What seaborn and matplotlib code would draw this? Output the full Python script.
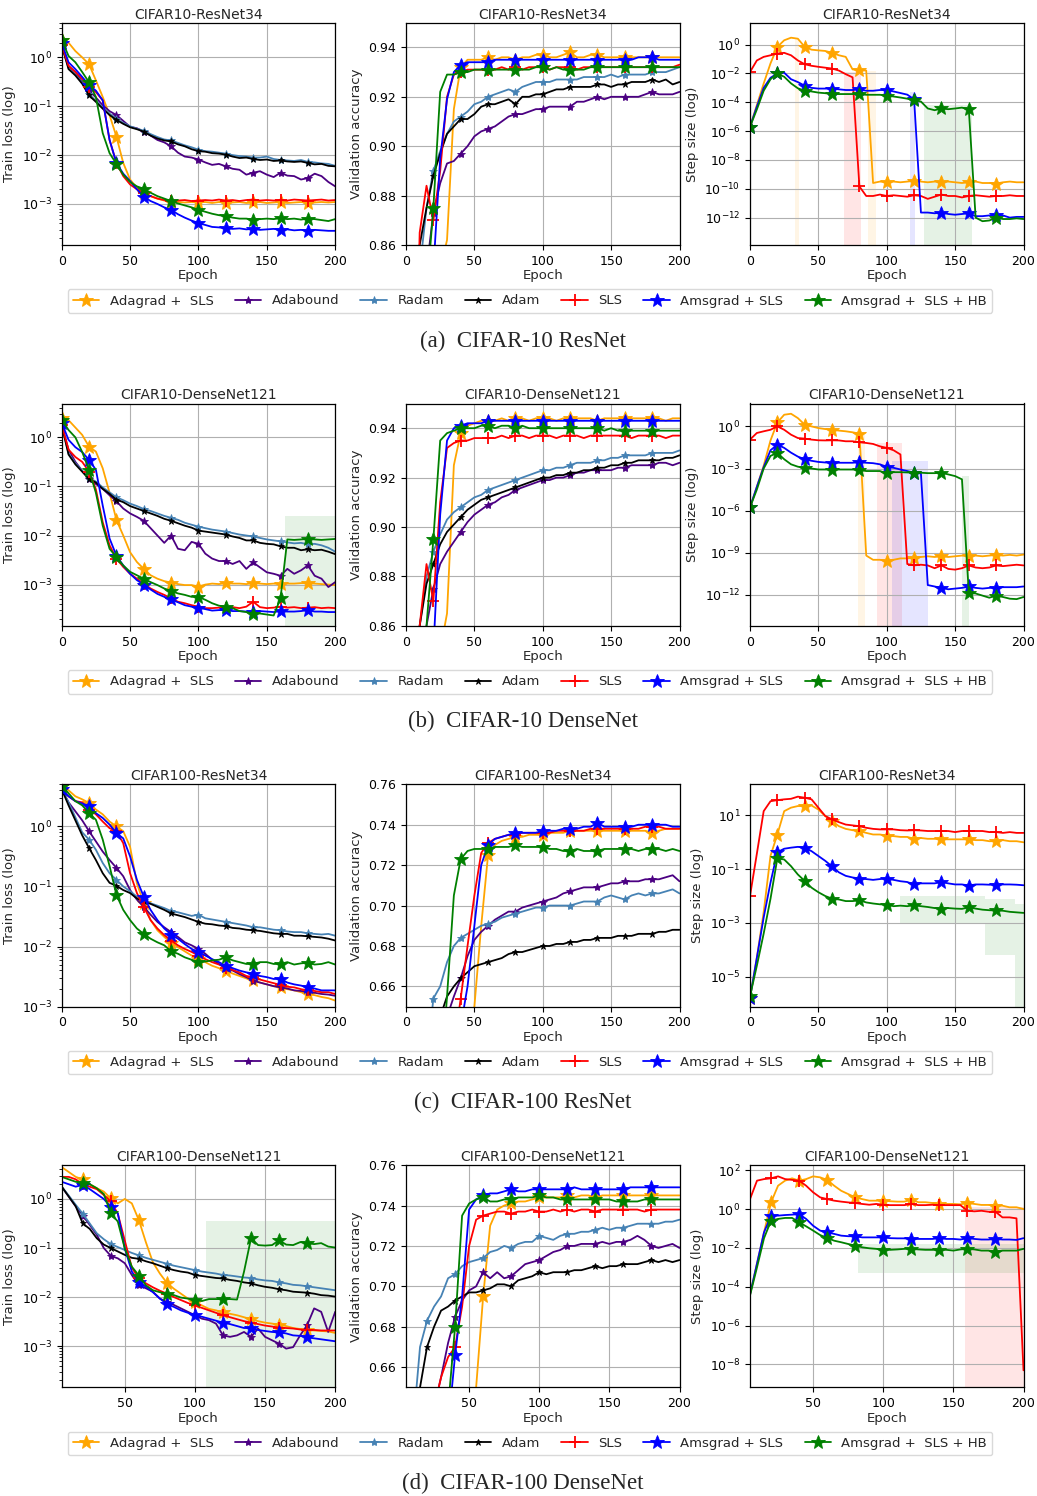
import numpy as np
import matplotlib
matplotlib.use("Agg")
import matplotlib.pyplot as plt
from matplotlib.lines import Line2D
from matplotlib.ticker import NullLocator
import seaborn as sns

epochs = list(range(0, 201, 5))
epochs_dn = list(range(5, 201, 5))   # CIFAR100-DenseNet curves start at epoch 5

methods = ["Adagrad +  SLS", "Adabound", "Radam", "Adam", "SLS",
           "Amsgrad + SLS", "Amsgrad +  SLS + HB"]
colors = ["orange", "indigo", "steelblue", "black", "red", "blue", "green"]
markers = ["*", "*", "*", "*", "+", "*", "*"]
msizes = [10, 6, 6, 5, 8, 10, 10]

# ---------------- CIFAR10 - ResNet34 ----------------
# train loss, log10
c10r_loss_adagrad = [0.36, 0.30, 0.13, 0.00, -0.14, -0.47, -0.81, -1.18, -1.62, -2.16, -2.50, -2.67, -2.77, -2.84, -2.89, -2.93, -2.95, -2.96, -2.97, -2.96, -2.97, -2.96, -2.98, -2.96, -2.98, -2.97, -2.96, -2.98, -2.97, -2.96, -2.98, -2.97, -2.96, -2.98, -2.97, -2.96, -2.98, -2.97, -2.96, -2.97, -2.96]
c10r_loss_adabound = [0.25, -0.18, -0.30, -0.50, -0.68, -0.82, -0.98, -1.10, -1.18, -1.30, -1.42, -1.45, -1.52, -1.60, -1.69, -1.74, -1.82, -1.95, -2.03, -2.05, -2.09, -2.15, -2.20, -2.18, -2.23, -2.28, -2.30, -2.40, -2.36, -2.33, -2.40, -2.45, -2.36, -2.42, -2.43, -2.50, -2.47, -2.38, -2.43, -2.55, -2.64]
c10r_loss_radam = [0.25, -0.22, -0.35, -0.52, -0.75, -0.89, -1.02, -1.15, -1.26, -1.34, -1.41, -1.46, -1.50, -1.57, -1.63, -1.68, -1.70, -1.75, -1.80, -1.84, -1.89, -1.92, -1.93, -1.95, -1.97, -2.00, -2.02, -2.03, -2.05, -2.05, -2.03, -2.08, -2.10, -2.11, -2.12, -2.10, -2.14, -2.15, -2.17, -2.18, -2.22]
c10r_loss_adam = [0.25, -0.24, -0.37, -0.54, -0.78, -0.91, -1.05, -1.18, -1.28, -1.36, -1.43, -1.47, -1.52, -1.60, -1.66, -1.70, -1.72, -1.78, -1.82, -1.88, -1.92, -1.93, -1.96, -1.97, -1.99, -2.03, -2.06, -2.05, -2.08, -2.10, -2.09, -2.12, -2.11, -2.13, -2.14, -2.13, -2.16, -2.19, -2.18, -2.22, -2.23]
c10r_loss_sls = [0.25, -0.17, -0.30, -0.44, -0.60, -0.71, -0.88, -1.69, -2.16, -2.43, -2.60, -2.70, -2.77, -2.84, -2.89, -2.92, -2.93, -2.93, -2.92, -2.94, -2.93, -2.92, -2.93, -2.91, -2.93, -2.92, -2.94, -2.92, -2.91, -2.93, -2.92, -2.93, -2.92, -2.93, -2.91, -2.92, -2.93, -2.92, -2.91, -2.93, -2.92]
c10r_loss_amsgrad = [0.30, -0.10, -0.24, -0.40, -0.57, -0.68, -0.88, -1.69, -2.16, -2.38, -2.53, -2.70, -2.85, -2.94, -3.00, -3.07, -3.12, -3.21, -3.28, -3.34, -3.39, -3.43, -3.47, -3.48, -3.50, -3.51, -3.50, -3.52, -3.51, -3.53, -3.52, -3.51, -3.53, -3.52, -3.54, -3.53, -3.55, -3.53, -3.54, -3.55, -3.55]
c10r_loss_hb = [0.36, 0.03, -0.10, -0.30, -0.51, -0.81, -1.55, -1.96, -2.18, -2.40, -2.55, -2.64, -2.69, -2.77, -2.84, -2.89, -2.94, -2.99, -3.03, -3.07, -3.12, -3.16, -3.20, -3.23, -3.25, -3.28, -3.30, -3.30, -3.32, -3.31, -3.30, -3.31, -3.29, -3.31, -3.30, -3.32, -3.30, -3.31, -3.33, -3.35, -3.31]
# validation accuracy
c10r_acc_adagrad = [0.60, 0.70, 0.78, 0.82, 0.84, 0.85, 0.862, 0.915, 0.932, 0.935, 0.935, 0.935, 0.936, 0.935, 0.936, 0.936, 0.935, 0.936, 0.936, 0.937, 0.937, 0.936, 0.936, 0.937, 0.938, 0.936, 0.936, 0.937, 0.937, 0.936, 0.936, 0.936, 0.936, 0.936, 0.936, 0.936, 0.936, 0.936, 0.936, 0.936, 0.936]
c10r_acc_adabound = [0.55, 0.70, 0.80, 0.85, 0.873, 0.885, 0.893, 0.894, 0.897, 0.900, 0.904, 0.906, 0.907, 0.908, 0.910, 0.912, 0.913, 0.913, 0.914, 0.915, 0.915, 0.916, 0.916, 0.916, 0.916, 0.918, 0.918, 0.919, 0.920, 0.919, 0.920, 0.920, 0.920, 0.920, 0.920, 0.921, 0.922, 0.921, 0.921, 0.921, 0.922]
c10r_acc_radam = [0.60, 0.75, 0.85, 0.875, 0.890, 0.898, 0.905, 0.910, 0.912, 0.914, 0.917, 0.918, 0.920, 0.921, 0.922, 0.923, 0.922, 0.924, 0.925, 0.926, 0.926, 0.926, 0.927, 0.927, 0.927, 0.927, 0.928, 0.928, 0.928, 0.928, 0.929, 0.928, 0.929, 0.929, 0.929, 0.929, 0.930, 0.930, 0.930, 0.931, 0.932]
c10r_acc_adam = [0.60, 0.75, 0.86, 0.875, 0.888, 0.897, 0.905, 0.908, 0.911, 0.911, 0.913, 0.916, 0.917, 0.917, 0.918, 0.919, 0.917, 0.920, 0.920, 0.921, 0.921, 0.922, 0.923, 0.923, 0.924, 0.924, 0.924, 0.924, 0.925, 0.925, 0.924, 0.925, 0.925, 0.926, 0.926, 0.926, 0.927, 0.926, 0.927, 0.925, 0.926]
c10r_acc_sls = [0.60, 0.75, 0.865, 0.884, 0.870, 0.890, 0.920, 0.929, 0.930, 0.931, 0.931, 0.931, 0.931, 0.931, 0.932, 0.931, 0.932, 0.931, 0.932, 0.932, 0.932, 0.931, 0.932, 0.932, 0.932, 0.931, 0.932, 0.932, 0.932, 0.932, 0.932, 0.932, 0.932, 0.932, 0.932, 0.932, 0.932, 0.932, 0.932, 0.932, 0.933]
c10r_acc_amsgrad = [0.60, 0.70, 0.78, 0.82, 0.850, 0.895, 0.919, 0.930, 0.933, 0.934, 0.934, 0.934, 0.934, 0.935, 0.935, 0.935, 0.935, 0.935, 0.935, 0.935, 0.935, 0.935, 0.935, 0.935, 0.935, 0.935, 0.935, 0.935, 0.935, 0.935, 0.935, 0.935, 0.935, 0.935, 0.936, 0.936, 0.936, 0.935, 0.935, 0.935, 0.935]
c10r_acc_hb = [0.60, 0.72, 0.80, 0.84, 0.875, 0.922, 0.929, 0.929, 0.930, 0.930, 0.931, 0.931, 0.931, 0.931, 0.931, 0.931, 0.931, 0.931, 0.931, 0.932, 0.932, 0.931, 0.932, 0.931, 0.931, 0.931, 0.931, 0.932, 0.932, 0.932, 0.932, 0.932, 0.932, 0.932, 0.932, 0.932, 0.932, 0.932, 0.932, 0.932, 0.932]
# step size, log10
c10r_step_adagrad = [-5.7, -4.2, -2.7, -1.3, -0.16, 0.30, 0.48, 0.41, -0.16, -0.35, -0.40, -0.44, -0.57, -0.74, -0.85, -1.72, -1.77, -1.80, -9.6, -9.5, -9.55, -9.5, -9.55, -9.5, -9.45, -9.5, -9.55, -9.5, -9.55, -9.5, -9.55, -9.6, -9.55, -9.5, -9.6, -9.6, -9.64, -9.55, -9.5, -9.55, -9.55]
c10r_step_sls = [-1.9, -1.1, -0.85, -0.74, -0.62, -0.57, -0.74, -1.10, -1.36, -1.47, -1.54, -1.60, -1.66, -1.80, -2.05, -2.27, -9.84, -10.5, -10.5, -10.4, -10.5, -10.45, -10.5, -10.55, -10.45, -10.5, -10.7, -10.55, -10.4, -10.5, -10.5, -10.6, -10.5, -10.45, -10.5, -10.55, -10.5, -10.5, -10.45, -10.5, -10.5]
c10r_step_amsgrad = [-5.7, -4.3, -3.0, -2.3, -2.0, -1.95, -2.4, -2.6, -2.85, -3.0, -3.05, -3.05, -3.05, -3.1, -3.15, -3.15, -3.1, -3.2, -3.2, -3.15, -3.15, -3.25, -3.36, -3.47, -3.8, -11.65, -11.65, -11.7, -11.65, -11.75, -11.8, -11.75, -11.7, -11.9, -11.9, -11.85, -11.85, -11.85, -12.0, -11.95, -11.95]
c10r_step_hb = [-5.7, -4.5, -3.2, -2.4, -2.0, -2.23, -2.69, -3.03, -3.2, -3.25, -3.33, -3.37, -3.43, -3.43, -3.43, -3.43, -3.45, -3.48, -3.48, -3.48, -3.53, -3.6, -3.67, -3.75, -3.84, -3.95, -4.43, -4.55, -4.43, -4.48, -4.43, -4.37, -4.5, -12.0, -12.25, -12.2, -12.0, -12.1, -12.1, -12.05, -12.1]
# shaded spread (method index, first epoch, last epoch, low log10, high log10)
c10r_step_bands = [(4, 69, 81, -13.9, -1.9), (5, 117, 121, -13.9, -3.3),
                   (6, 127, 162, -13.9, -4.2), (0, 33, 36, -13.9, 0.4), (0, 86, 92, -13.9, -1.8)]

# ---------------- CIFAR10 - DenseNet121 ----------------
c10d_loss_adagrad = [0.40, 0.35, 0.20, 0.05, -0.19, -0.29, -0.63, -1.13, -1.68, -2.00, -2.34, -2.54, -2.68, -2.81, -2.88, -2.93, -2.96, -2.99, -3.01, -3.01, -3.04, -3.00, -2.98, -2.99, -2.97, -2.98, -2.98, -2.99, -2.97, -2.98, -2.99, -2.98, -2.99, -2.98, -2.98, -2.97, -2.97, -2.98, -2.99, -3.00, -3.01]
c10d_loss_adabound = [0.25, -0.25, -0.50, -0.68, -0.85, -0.95, -1.05, -1.18, -1.30, -1.45, -1.55, -1.62, -1.70, -1.85, -2.00, -2.15, -2.00, -2.27, -2.30, -2.13, -2.17, -2.37, -2.47, -2.52, -2.52, -2.58, -2.52, -2.68, -2.55, -2.65, -2.75, -2.78, -2.82, -2.68, -2.78, -2.71, -2.61, -2.82, -2.88, -3.05, -2.95]
c10d_loss_radam = [0.25, -0.33, -0.53, -0.68, -0.83, -0.90, -1.02, -1.12, -1.22, -1.28, -1.35, -1.40, -1.46, -1.50, -1.55, -1.60, -1.64, -1.68, -1.74, -1.78, -1.82, -1.85, -1.88, -1.90, -1.92, -1.95, -1.98, -2.00, -2.02, -2.05, -2.08, -2.10, -2.12, -2.14, -2.16, -2.15, -2.18, -2.17, -2.20, -2.25, -2.33]
c10d_loss_adam = [0.25, -0.35, -0.55, -0.70, -0.85, -0.92, -1.05, -1.15, -1.27, -1.32, -1.40, -1.45, -1.50, -1.55, -1.60, -1.66, -1.70, -1.75, -1.80, -1.84, -1.90, -1.92, -1.94, -1.96, -1.98, -2.02, -2.05, -2.10, -2.10, -2.15, -2.17, -2.18, -2.22, -2.25, -2.25, -2.30, -2.28, -2.30, -2.29, -2.33, -2.38]
c10d_loss_sls = [0.25, -0.25, -0.40, -0.50, -0.70, -1.06, -1.73, -2.20, -2.47, -2.64, -2.78, -2.88, -2.98, -3.08, -3.15, -3.21, -3.28, -3.35, -3.38, -3.42, -3.45, -3.48, -3.48, -3.47, -3.48, -3.46, -3.48, -3.45, -3.35, -3.46, -3.48, -3.47, -3.45, -3.47, -3.46, -3.48, -3.47, -3.46, -3.48, -3.47, -3.48]
c10d_loss_amsgrad = [0.30, -0.05, -0.20, -0.30, -0.46, -0.66, -1.39, -2.06, -2.41, -2.61, -2.78, -2.91, -3.00, -3.10, -3.19, -3.25, -3.30, -3.36, -3.42, -3.45, -3.47, -3.50, -3.53, -3.52, -3.52, -3.54, -3.54, -3.55, -3.55, -3.54, -3.55, -3.56, -3.54, -3.55, -3.55, -3.54, -3.52, -3.55, -3.55, -3.56, -3.56]
c10d_loss_hb = [0.36, 0.15, 0.00, -0.30, -0.66, -1.13, -1.80, -2.27, -2.44, -2.61, -2.74, -2.81, -2.88, -2.95, -3.01, -3.08, -3.13, -3.18, -3.21, -3.25, -3.25, -3.31, -3.38, -3.43, -3.45, -3.48, -3.54, -3.56, -3.59, -3.59, -3.61, -3.63, -3.28, -2.08, -2.09, -2.08, -2.07, -2.08, -2.09, -2.08, -2.07]
c10d_loss_bands = [(6, 163, 200, -3.9, -1.6)]
c10d_acc_adagrad = [0.60, 0.70, 0.78, 0.82, 0.84, 0.85, 0.865, 0.925, 0.938, 0.941, 0.942, 0.943, 0.943, 0.943, 0.944, 0.943, 0.944, 0.944, 0.943, 0.944, 0.944, 0.944, 0.943, 0.944, 0.944, 0.944, 0.944, 0.944, 0.943, 0.944, 0.944, 0.944, 0.944, 0.944, 0.944, 0.944, 0.944, 0.944, 0.943, 0.944, 0.944]
c10d_acc_adabound = [0.55, 0.70, 0.80, 0.86, 0.875, 0.885, 0.890, 0.894, 0.898, 0.902, 0.905, 0.907, 0.909, 0.910, 0.912, 0.913, 0.915, 0.916, 0.917, 0.918, 0.919, 0.919, 0.920, 0.920, 0.921, 0.922, 0.922, 0.923, 0.923, 0.923, 0.923, 0.924, 0.924, 0.925, 0.925, 0.925, 0.925, 0.926, 0.926, 0.925, 0.926]
c10d_acc_radam = [0.60, 0.75, 0.86, 0.880, 0.890, 0.897, 0.903, 0.906, 0.908, 0.910, 0.912, 0.913, 0.915, 0.916, 0.917, 0.918, 0.919, 0.920, 0.921, 0.922, 0.923, 0.923, 0.924, 0.924, 0.925, 0.926, 0.926, 0.926, 0.927, 0.927, 0.928, 0.928, 0.929, 0.929, 0.929, 0.929, 0.930, 0.930, 0.930, 0.930, 0.931]
c10d_acc_adam = [0.60, 0.75, 0.86, 0.877, 0.885, 0.893, 0.898, 0.901, 0.904, 0.907, 0.909, 0.911, 0.912, 0.913, 0.914, 0.915, 0.916, 0.917, 0.918, 0.919, 0.920, 0.920, 0.921, 0.921, 0.922, 0.922, 0.923, 0.923, 0.924, 0.924, 0.925, 0.925, 0.926, 0.926, 0.927, 0.927, 0.927, 0.927, 0.928, 0.928, 0.929]
c10d_acc_sls = [0.60, 0.75, 0.86, 0.885, 0.870, 0.910, 0.932, 0.934, 0.935, 0.935, 0.936, 0.936, 0.936, 0.936, 0.937, 0.936, 0.937, 0.937, 0.936, 0.937, 0.937, 0.937, 0.936, 0.937, 0.937, 0.937, 0.936, 0.937, 0.937, 0.937, 0.937, 0.937, 0.937, 0.936, 0.937, 0.937, 0.937, 0.937, 0.936, 0.937, 0.937]
c10d_acc_amsgrad = [0.60, 0.70, 0.78, 0.82, 0.850, 0.905, 0.935, 0.940, 0.941, 0.942, 0.942, 0.942, 0.943, 0.943, 0.943, 0.943, 0.943, 0.943, 0.943, 0.943, 0.943, 0.943, 0.943, 0.943, 0.943, 0.943, 0.943, 0.943, 0.943, 0.943, 0.943, 0.943, 0.943, 0.943, 0.943, 0.943, 0.943, 0.943, 0.943, 0.943, 0.943]
c10d_acc_hb = [0.60, 0.72, 0.80, 0.86, 0.895, 0.935, 0.938, 0.939, 0.940, 0.940, 0.940, 0.941, 0.941, 0.940, 0.941, 0.941, 0.940, 0.941, 0.940, 0.940, 0.940, 0.940, 0.940, 0.940, 0.940, 0.940, 0.940, 0.940, 0.940, 0.939, 0.940, 0.939, 0.939, 0.939, 0.939, 0.939, 0.939, 0.939, 0.939, 0.939, 0.939]
c10d_step_adagrad = [-5.77, -4.3, -2.8, -1.0, 0.28, 0.83, 0.90, 0.59, 0.12, 0.0, -0.12, -0.19, -0.24, -0.30, -0.35, -0.42, -0.52, -9.2, -9.5, -9.5, -9.6, -9.5, -9.4, -9.4, -9.35, -9.3, -9.25, -9.3, -9.25, -9.3, -9.25, -9.2, -9.25, -9.2, -9.25, -9.2, -9.15, -9.2, -9.15, -9.2, -9.13]
c10d_step_sls = [-0.94, -0.47, -0.35, -0.24, 0.0, -0.24, -0.59, -0.83, -0.87, -0.94, -0.99, -1.0, -0.99, -1.0, -1.06, -1.06, -1.13, -1.18, -1.25, -1.42, -1.53, -1.70, -2.0, -9.8, -9.9, -9.85, -9.9, -10.1, -9.9, -10.15, -10.2, -10.1, -9.9, -10.05, -10.1, -10.05, -9.9, -9.95, -9.9, -9.85, -9.9]
c10d_step_amsgrad = [-5.77, -4.3, -2.9, -1.7, -1.3, -1.53, -1.87, -2.15, -2.34, -2.45, -2.53, -2.57, -2.59, -2.59, -2.59, -2.59, -2.55, -2.59, -2.62, -2.7, -2.88, -2.95, -3.07, -3.18, -3.3, -3.35, -11.3, -11.4, -11.5, -11.6, -11.55, -11.5, -11.4, -11.5, -11.55, -11.5, -11.5, -11.45, -11.45, -11.45, -11.4]
c10d_step_hb = [-5.77, -4.5, -3.0, -2.1, -1.89, -2.34, -2.7, -2.87, -2.95, -3.0, -3.07, -3.07, -3.07, -3.07, -3.07, -3.07, -3.1, -3.18, -3.18, -3.18, -3.35, -3.26, -3.26, -3.28, -3.3, -3.3, -3.33, -3.33, -3.3, -3.42, -3.54, -3.77, -11.85, -11.9, -12.05, -12.2, -12.05, -12.15, -12.27, -12.3, -12.15]
c10d_step_bands = [(0, 79, 84, -14.2, -0.6), (4, 93, 111, -14.2, -1.2),
                   (5, 104, 130, -14.2, -2.5), (6, 155, 160, -14.2, -3.5)]

# ---------------- CIFAR100 - ResNet34 ----------------
c100r_loss_adagrad = [0.68, 0.60, 0.50, 0.45, 0.39, 0.28, 0.20, 0.08, 0.00, -0.08, -0.34, -0.95, -1.28, -1.56, -1.73, -1.84, -1.94, -2.01, -2.08, -2.15, -2.21, -2.26, -2.32, -2.36, -2.40, -2.45, -2.49, -2.53, -2.56, -2.60, -2.63, -2.66, -2.68, -2.71, -2.73, -2.76, -2.79, -2.81, -2.84, -2.86, -2.90]
c100r_loss_adabound = [0.62, 0.40, 0.25, 0.10, -0.08, -0.25, -0.42, -0.56, -0.69, -0.83, -1.06, -1.22, -1.34, -1.47, -1.59, -1.68, -1.76, -1.84, -1.93, -1.98, -2.04, -2.12, -2.22, -2.29, -2.35, -2.40, -2.46, -2.51, -2.57, -2.60, -2.63, -2.66, -2.68, -2.70, -2.73, -2.74, -2.76, -2.77, -2.79, -2.80, -2.82]
c100r_loss_radam = [0.62, 0.40, 0.15, -0.10, -0.22, -0.39, -0.61, -0.78, -0.89, -1.00, -1.08, -1.17, -1.22, -1.28, -1.32, -1.36, -1.41, -1.43, -1.46, -1.49, -1.47, -1.53, -1.55, -1.57, -1.59, -1.61, -1.63, -1.65, -1.68, -1.68, -1.70, -1.72, -1.73, -1.75, -1.76, -1.76, -1.78, -1.79, -1.80, -1.79, -1.82]
c100r_loss_adam = [0.62, 0.35, 0.10, -0.15, -0.36, -0.56, -0.78, -0.94, -0.99, -1.06, -1.11, -1.20, -1.25, -1.29, -1.34, -1.39, -1.45, -1.48, -1.51, -1.55, -1.59, -1.62, -1.63, -1.65, -1.66, -1.69, -1.70, -1.72, -1.73, -1.74, -1.76, -1.78, -1.79, -1.79, -1.82, -1.82, -1.83, -1.84, -1.85, -1.87, -1.90]
c100r_loss_sls = [0.62, 0.50, 0.42, 0.40, 0.28, 0.20, 0.08, -0.03, -0.08, -0.28, -0.78, -1.11, -1.34, -1.56, -1.70, -1.81, -1.90, -1.98, -2.04, -2.09, -2.15, -2.21, -2.26, -2.30, -2.35, -2.39, -2.43, -2.49, -2.51, -2.55, -2.58, -2.61, -2.64, -2.67, -2.68, -2.71, -2.73, -2.74, -2.76, -2.76, -2.79]
c100r_loss_amsgrad = [0.62, 0.50, 0.42, 0.38, 0.34, 0.22, 0.14, 0.03, -0.11, -0.20, -0.50, -0.89, -1.17, -1.39, -1.56, -1.70, -1.80, -1.87, -1.96, -2.04, -2.09, -2.15, -2.21, -2.26, -2.32, -2.36, -2.40, -2.43, -2.45, -2.49, -2.51, -2.54, -2.54, -2.60, -2.63, -2.65, -2.68, -2.70, -2.73, -2.73, -2.73]
c100r_loss_hb = [0.68, 0.55, 0.42, 0.35, 0.22, 0.11, -0.22, -0.66, -1.14, -1.39, -1.56, -1.70, -1.79, -1.87, -1.93, -1.98, -2.08, -2.12, -2.18, -2.22, -2.26, -2.25, -2.23, -2.22, -2.18, -2.23, -2.26, -2.29, -2.29, -2.26, -2.26, -2.29, -2.29, -2.26, -2.30, -2.28, -2.27, -2.30, -2.29, -2.26, -2.30]
c100r_acc_adagrad = [0.20, 0.30, 0.40, 0.47, 0.53, 0.57, 0.60, 0.62, 0.63, 0.64, 0.65, 0.69, 0.725, 0.730, 0.732, 0.733, 0.734, 0.734, 0.735, 0.735, 0.735, 0.736, 0.736, 0.736, 0.737, 0.737, 0.737, 0.737, 0.737, 0.737, 0.737, 0.737, 0.737, 0.737, 0.737, 0.737, 0.736, 0.737, 0.738, 0.738, 0.738]
c100r_acc_adabound = [0.25, 0.35, 0.45, 0.52, 0.57, 0.61, 0.645, 0.655, 0.664, 0.675, 0.683, 0.687, 0.690, 0.693, 0.695, 0.697, 0.697, 0.699, 0.700, 0.701, 0.702, 0.703, 0.704, 0.706, 0.707, 0.708, 0.709, 0.709, 0.709, 0.710, 0.711, 0.711, 0.712, 0.712, 0.712, 0.713, 0.713, 0.713, 0.714, 0.715, 0.712]
c100r_acc_radam = [0.30, 0.45, 0.55, 0.62, 0.654, 0.660, 0.672, 0.680, 0.684, 0.686, 0.688, 0.690, 0.691, 0.692, 0.694, 0.695, 0.696, 0.697, 0.698, 0.699, 0.699, 0.700, 0.700, 0.700, 0.700, 0.701, 0.702, 0.702, 0.702, 0.704, 0.705, 0.704, 0.703, 0.705, 0.706, 0.705, 0.706, 0.706, 0.707, 0.708, 0.706]
c100r_acc_adam = [0.30, 0.45, 0.55, 0.60, 0.62, 0.645, 0.655, 0.660, 0.664, 0.667, 0.670, 0.671, 0.672, 0.673, 0.674, 0.676, 0.677, 0.677, 0.678, 0.679, 0.680, 0.680, 0.681, 0.681, 0.682, 0.682, 0.683, 0.683, 0.684, 0.684, 0.684, 0.685, 0.685, 0.685, 0.686, 0.686, 0.686, 0.687, 0.687, 0.688, 0.688]
c100r_acc_sls = [0.20, 0.30, 0.40, 0.47, 0.53, 0.57, 0.60, 0.63, 0.654, 0.680, 0.705, 0.726, 0.731, 0.733, 0.734, 0.735, 0.735, 0.736, 0.736, 0.736, 0.736, 0.736, 0.737, 0.737, 0.737, 0.737, 0.737, 0.738, 0.738, 0.738, 0.738, 0.738, 0.738, 0.738, 0.738, 0.739, 0.739, 0.739, 0.738, 0.738, 0.738]
c100r_acc_amsgrad = [0.20, 0.30, 0.40, 0.47, 0.53, 0.57, 0.60, 0.62, 0.64, 0.660, 0.690, 0.720, 0.730, 0.733, 0.734, 0.735, 0.736, 0.736, 0.736, 0.736, 0.737, 0.737, 0.737, 0.738, 0.738, 0.738, 0.739, 0.739, 0.741, 0.739, 0.739, 0.739, 0.739, 0.739, 0.740, 0.740, 0.740, 0.740, 0.740, 0.739, 0.739]
c100r_acc_hb = [0.20, 0.35, 0.45, 0.52, 0.57, 0.61, 0.655, 0.705, 0.723, 0.727, 0.728, 0.728, 0.728, 0.729, 0.729, 0.729, 0.730, 0.729, 0.729, 0.729, 0.729, 0.728, 0.728, 0.727, 0.727, 0.728, 0.727, 0.727, 0.727, 0.728, 0.728, 0.728, 0.728, 0.728, 0.727, 0.728, 0.728, 0.728, 0.727, 0.728, 0.727]
c100r_step_adagrad = [-5.8, -4.3, -2.6, -0.5, 0.29, 1.16, 1.29, 1.35, 1.35, 1.37, 1.22, 0.98, 0.79, 0.60, 0.50, 0.45, 0.42, 0.35, 0.29, 0.29, 0.25, 0.23, 0.20, 0.20, 0.13, 0.16, 0.13, 0.13, 0.11, 0.11, 0.11, 0.11, 0.11, 0.08, 0.08, 0.04, 0.04, 0.08, 0.04, 0.04, 0.0]
c100r_step_sls = [-2.0, -0.43, 1.16, 1.53, 1.57, 1.60, 1.62, 1.70, 1.66, 1.60, 1.29, 0.98, 0.85, 0.75, 0.66, 0.63, 0.60, 0.54, 0.50, 0.48, 0.48, 0.48, 0.45, 0.44, 0.45, 0.44, 0.42, 0.42, 0.42, 0.42, 0.38, 0.42, 0.42, 0.42, 0.42, 0.38, 0.38, 0.35, 0.38, 0.35, 0.35]
c100r_step_amsgrad = [-5.8, -4.3, -2.8, -1.5, -0.37, -0.24, -0.20, -0.17, -0.20, -0.33, -0.51, -0.69, -0.90, -1.12, -1.25, -1.31, -1.35, -1.37, -1.40, -1.37, -1.35, -1.40, -1.45, -1.48, -1.57, -1.53, -1.53, -1.53, -1.48, -1.53, -1.57, -1.57, -1.61, -1.57, -1.57, -1.58, -1.58, -1.57, -1.57, -1.58, -1.60]
c100r_step_hb = [-5.73, -4.6, -3.4, -2.1, -0.6, -0.64, -0.89, -1.2, -1.44, -1.69, -1.86, -2.0, -2.1, -2.13, -2.19, -2.19, -2.16, -2.24, -2.28, -2.31, -2.32, -2.38, -2.36, -2.38, -2.34, -2.38, -2.41, -2.45, -2.47, -2.45, -2.47, -2.48, -2.42, -2.47, -2.51, -2.53, -2.54, -2.55, -2.59, -2.61, -2.63]
c100r_step_bands = [(6, 110, 172, -3.0, -2.0), (6, 172, 194, -4.2, -2.1), (6, 194, 200, -6.2, -2.3)]

# ---------------- CIFAR100 - DenseNet121 (epochs 5..200) ----------------
c100d_loss_adagrad = [0.65, 0.55, 0.45, 0.40, 0.30, 0.22, 0.15, 0.01, -0.09, 0.00, -0.09, -0.43, -0.88, -1.29, -1.52, -1.71, -1.83, -1.93, -2.03, -2.10, -2.17, -2.24, -2.27, -2.31, -2.34, -2.37, -2.41, -2.45, -2.49, -2.52, -2.54, -2.56, -2.59, -2.63, -2.65, -2.67, -2.68, -2.69, -2.70, -2.73]
c100d_loss_adabound = [0.25, 0.05, -0.15, -0.34, -0.53, -0.73, -1.00, -1.16, -1.21, -1.31, -1.55, -1.76, -1.82, -1.89, -2.03, -2.10, -2.16, -2.23, -2.30, -2.37, -2.44, -2.47, -2.54, -2.78, -2.81, -2.78, -2.71, -2.81, -2.64, -2.81, -2.88, -2.95, -3.05, -3.02, -2.78, -2.57, -2.23, -2.30, -2.71, -2.30]
c100d_loss_radam = [0.25, 0.07, -0.12, -0.30, -0.50, -0.70, -0.82, -0.92, -0.98, -1.04, -1.10, -1.15, -1.20, -1.24, -1.28, -1.32, -1.36, -1.39, -1.42, -1.45, -1.48, -1.50, -1.52, -1.55, -1.56, -1.58, -1.60, -1.61, -1.64, -1.66, -1.67, -1.70, -1.72, -1.75, -1.76, -1.78, -1.80, -1.82, -1.84, -1.86]
c100d_loss_adam = [0.25, 0.05, -0.15, -0.50, -0.61, -0.80, -0.93, -1.00, -1.07, -1.14, -1.20, -1.22, -1.27, -1.31, -1.36, -1.41, -1.45, -1.48, -1.50, -1.55, -1.57, -1.59, -1.61, -1.62, -1.65, -1.67, -1.70, -1.72, -1.76, -1.79, -1.81, -1.84, -1.86, -1.89, -1.90, -1.91, -1.93, -1.96, -1.97, -1.99]
c100d_loss_sls = [0.45, 0.45, 0.40, 0.30, 0.25, 0.20, 0.08, -0.05, -0.30, -0.85, -1.40, -1.62, -1.72, -1.80, -1.87, -1.93, -2.00, -2.06, -2.12, -2.17, -2.22, -2.27, -2.32, -2.37, -2.41, -2.45, -2.49, -2.52, -2.55, -2.58, -2.60, -2.62, -2.63, -2.64, -2.66, -2.67, -2.67, -2.68, -2.68, -2.68]
c100d_loss_amsgrad = [0.35, 0.30, 0.25, 0.29, 0.20, 0.10, 0.00, -0.16, -0.29, -1.01, -1.48, -1.69, -1.79, -1.90, -2.03, -2.14, -2.20, -2.27, -2.32, -2.37, -2.40, -2.44, -2.48, -2.52, -2.55, -2.59, -2.63, -2.63, -2.67, -2.69, -2.71, -2.72, -2.74, -2.78, -2.79, -2.82, -2.84, -2.86, -2.88, -2.90]
c100d_loss_hb = [0.45, 0.40, 0.35, 0.33, 0.30, 0.22, 0.10, -0.29, -0.46, -1.01, -1.38, -1.56, -1.76, -1.86, -1.90, -1.93, -1.96, -2.01, -2.03, -2.06, -2.08, -2.04, -2.04, -2.04, -2.04, -2.05, -1.48, -0.80, -0.94, -0.95, -0.94, -0.84, -0.93, -0.94, -0.88, -0.90, -0.92, -0.90, -0.97, -0.99]
c100d_loss_bands = [(6, 108, 200, -3.9, -0.45)]
c100d_acc_adagrad = [0.50, 0.55, 0.58, 0.60, 0.61, 0.62, 0.63, 0.635, 0.64, 0.645, 0.650, 0.695, 0.730, 0.738, 0.740, 0.741, 0.742, 0.742, 0.743, 0.744, 0.744, 0.744, 0.744, 0.745, 0.744, 0.745, 0.745, 0.744, 0.745, 0.745, 0.745, 0.745, 0.745, 0.745, 0.745, 0.745, 0.745, 0.745, 0.745, 0.745]
c100d_acc_adabound = [0.50, 0.55, 0.59, 0.62, 0.64, 0.655, 0.672, 0.685, 0.693, 0.698, 0.700, 0.707, 0.704, 0.707, 0.704, 0.705, 0.708, 0.711, 0.712, 0.713, 0.715, 0.717, 0.718, 0.720, 0.720, 0.721, 0.721, 0.721, 0.722, 0.721, 0.722, 0.722, 0.723, 0.725, 0.723, 0.720, 0.719, 0.720, 0.721, 0.719]
c100d_acc_radam = [0.60, 0.63, 0.67, 0.683, 0.690, 0.695, 0.704, 0.706, 0.710, 0.712, 0.713, 0.714, 0.717, 0.718, 0.720, 0.719, 0.721, 0.722, 0.722, 0.725, 0.724, 0.723, 0.725, 0.726, 0.726, 0.727, 0.727, 0.728, 0.729, 0.728, 0.729, 0.729, 0.730, 0.731, 0.731, 0.731, 0.731, 0.732, 0.732, 0.733]
c100d_acc_adam = [0.60, 0.63, 0.65, 0.670, 0.680, 0.688, 0.690, 0.693, 0.695, 0.697, 0.697, 0.698, 0.699, 0.701, 0.701, 0.700, 0.703, 0.704, 0.705, 0.707, 0.706, 0.707, 0.707, 0.707, 0.708, 0.708, 0.709, 0.710, 0.709, 0.710, 0.710, 0.711, 0.711, 0.711, 0.712, 0.713, 0.712, 0.713, 0.712, 0.713]
c100d_acc_sls = [0.50, 0.55, 0.60, 0.62, 0.64, 0.655, 0.665, 0.670, 0.690, 0.720, 0.733, 0.735, 0.736, 0.737, 0.737, 0.736, 0.737, 0.737, 0.738, 0.737, 0.737, 0.738, 0.737, 0.738, 0.737, 0.738, 0.738, 0.737, 0.738, 0.738, 0.738, 0.738, 0.738, 0.738, 0.737, 0.738, 0.738, 0.738, 0.738, 0.738]
c100d_acc_amsgrad = [0.45, 0.50, 0.55, 0.58, 0.60, 0.62, 0.63, 0.666, 0.695, 0.738, 0.743, 0.745, 0.746, 0.746, 0.747, 0.748, 0.747, 0.747, 0.748, 0.748, 0.748, 0.748, 0.748, 0.748, 0.749, 0.748, 0.748, 0.748, 0.748, 0.748, 0.748, 0.748, 0.749, 0.749, 0.749, 0.749, 0.749, 0.749, 0.749, 0.749]
c100d_acc_hb = [0.45, 0.50, 0.55, 0.58, 0.60, 0.62, 0.64, 0.680, 0.735, 0.741, 0.743, 0.744, 0.742, 0.742, 0.743, 0.743, 0.744, 0.744, 0.744, 0.745, 0.744, 0.744, 0.743, 0.743, 0.743, 0.743, 0.743, 0.743, 0.743, 0.743, 0.742, 0.742, 0.742, 0.742, 0.743, 0.743, 0.743, 0.743, 0.743, 0.743]
c100d_step_adagrad = [-4.4, -2.8, -1.2, 0.34, 1.2, 1.46, 1.58, 1.46, 1.54, 1.68, 1.63, 1.5, 1.2, 0.94, 0.77, 0.6, 0.51, 0.43, 0.43, 0.43, 0.40, 0.38, 0.38, 0.48, 0.35, 0.35, 0.31, 0.26, 0.26, 0.26, 0.24, 0.31, 0.26, 0.21, 0.21, 0.17, 0.17, 0.09, 0.09, 0.0]
c100d_step_sls = [0.51, 1.46, 1.54, 1.58, 1.68, 1.54, 1.50, 1.46, 1.20, 0.86, 0.60, 0.51, 0.43, 0.38, 0.34, 0.31, 0.26, 0.22, 0.26, 0.22, 0.20, 0.20, 0.20, 0.26, 0.20, 0.20, 0.22, 0.20, 0.20, 0.20, 0.20, -0.09, -0.12, -0.09, -0.14, -0.14, -0.43, -0.43, -0.48, -8.3]
c100d_step_amsgrad = [-4.4, -2.8, -1.2, -0.34, -0.34, -0.31, -0.29, -0.26, -0.51, -0.86, -1.11, -1.2, -1.28, -1.37, -1.4, -1.4, -1.46, -1.46, -1.46, -1.46, -1.5, -1.51, -1.51, -1.54, -1.54, -1.54, -1.54, -1.5, -1.54, -1.54, -1.57, -1.5, -1.54, -1.57, -1.57, -1.54, -1.57, -1.57, -1.59, -1.5]
c100d_step_hb = [-4.45, -3.0, -1.5, -0.6, -0.51, -0.46, -0.46, -0.68, -0.89, -1.11, -1.34, -1.49, -1.63, -1.71, -1.8, -1.88, -1.97, -2.02, -2.05, -2.1, -2.1, -2.08, -2.05, -2.05, -2.08, -2.1, -2.1, -2.1, -2.1, -2.14, -2.08, -2.05, -2.08, -2.14, -2.14, -2.19, -2.14, -2.14, -2.14, -2.05]
c100d_step_bands = [(4, 158, 200, -9.3, 0.1), (6, 82, 200, -3.3, -1.8)]

# ---------------------------------------------------------------
rows = [
    dict(title="CIFAR10-ResNet34", caption="(a)  CIFAR-10 ResNet", x=epochs,
         loss=[c10r_loss_adagrad, c10r_loss_adabound, c10r_loss_radam, c10r_loss_adam,
               c10r_loss_sls, c10r_loss_amsgrad, c10r_loss_hb],
         acc=[c10r_acc_adagrad, c10r_acc_adabound, c10r_acc_radam, c10r_acc_adam,
              c10r_acc_sls, c10r_acc_amsgrad, c10r_acc_hb],
         step=[c10r_step_adagrad, None, None, None, c10r_step_sls, c10r_step_amsgrad, c10r_step_hb],
         loss_lim=(-3.84, 0.71), acc_lim=(0.86, 0.95), acc_ticks=[0.86, 0.88, 0.90, 0.92, 0.94],
         step_lim=(-13.9, 1.52), step_ticks=[0, -2, -4, -6, -8, -10, -12],
         loss_bands=[], step_bands=c10r_step_bands),
    dict(title="CIFAR10-DenseNet121", caption="(b)  CIFAR-10 DenseNet", x=epochs,
         loss=[c10d_loss_adagrad, c10d_loss_adabound, c10d_loss_radam, c10d_loss_adam,
               c10d_loss_sls, c10d_loss_amsgrad, c10d_loss_hb],
         acc=[c10d_acc_adagrad, c10d_acc_adabound, c10d_acc_radam, c10d_acc_adam,
              c10d_acc_sls, c10d_acc_amsgrad, c10d_acc_hb],
         step=[c10d_step_adagrad, None, None, None, c10d_step_sls, c10d_step_amsgrad, c10d_step_hb],
         loss_lim=(-3.84, 0.69), acc_lim=(0.86, 0.95), acc_ticks=[0.86, 0.88, 0.90, 0.92, 0.94],
         step_lim=(-14.2, 1.63), step_ticks=[0, -3, -6, -9, -12],
         loss_bands=c10d_loss_bands, step_bands=c10d_step_bands),
    dict(title="CIFAR100-ResNet34", caption="(c)  CIFAR-100 ResNet", x=epochs,
         loss=[c100r_loss_adagrad, c100r_loss_adabound, c100r_loss_radam, c100r_loss_adam,
               c100r_loss_sls, c100r_loss_amsgrad, c100r_loss_hb],
         acc=[c100r_acc_adagrad, c100r_acc_adabound, c100r_acc_radam, c100r_acc_adam,
              c100r_acc_sls, c100r_acc_amsgrad, c100r_acc_hb],
         step=[c100r_step_adagrad, None, None, None, c100r_step_sls, c100r_step_amsgrad, c100r_step_hb],
         loss_lim=(-3.0, 0.70), acc_lim=(0.65, 0.76), acc_ticks=[0.66, 0.68, 0.70, 0.72, 0.74, 0.76],
         step_lim=(-6.12, 2.16), step_ticks=[1, -1, -3, -5],
         loss_bands=[], step_bands=c100r_step_bands),
    dict(title="CIFAR100-DenseNet121", caption="(d)  CIFAR-100 DenseNet", x=epochs_dn,
         loss=[c100d_loss_adagrad, c100d_loss_adabound, c100d_loss_radam, c100d_loss_adam,
               c100d_loss_sls, c100d_loss_amsgrad, c100d_loss_hb],
         acc=[c100d_acc_adagrad, c100d_acc_adabound, c100d_acc_radam, c100d_acc_adam,
              c100d_acc_sls, c100d_acc_amsgrad, c100d_acc_hb],
         step=[c100d_step_adagrad, None, None, None, c100d_step_sls, c100d_step_amsgrad, c100d_step_hb],
         loss_lim=(-3.84, 0.69), acc_lim=(0.65, 0.76), acc_ticks=[0.66, 0.68, 0.70, 0.72, 0.74, 0.76],
         step_lim=(-9.18, 2.26), step_ticks=[2, 0, -2, -4, -6, -8],
         loss_bands=c100d_loss_bands, step_bands=c100d_step_bands),
]

sns.set_theme(style="ticks", rc={"axes.edgecolor": "black", "axes.linewidth": 0.9,
                                 "xtick.color": "black", "ytick.color": "black"})
plt.rcParams["font.family"] = ["DejaVu Sans"]

W, H = 1037, 1496
fig = plt.figure(figsize=(W / 100, H / 100), dpi=100)

lefts = [61.7, 406, 750]
ax_w, ax_h = 273.5, 222.3
pitch = 380.8


def draw_lines(ax, x, series, logscale, mevery):
    for i, vals in enumerate(series):
        if vals is None:
            continue
        y = np.array(vals, dtype=float)
        if logscale:
            y = 10 ** y
        sns.lineplot(x=x, y=y, ax=ax, color=colors[i], lw=1.3, marker=markers[i],
                     markersize=msizes[i], markevery=mevery, markeredgecolor=colors[i],
                     markeredgewidth=1.3 if markers[i] == "+" else 0.6, legend=False)


def draw_bands(ax, bands):
    for idx, x0, x1, lo, hi in bands:
        ax.fill_between([x0, x1], [10 ** lo] * 2, [10 ** hi] * 2, color=colors[idx],
                        alpha=0.1, lw=0, zorder=0.5)


for r, row in enumerate(rows):
    bottom = 1 - (22.7 + ax_h + pitch * r) / H
    x = row["x"]
    if x[0] == 0:
        mevery = list(range(0, 37, 4))
        xlim, xticks = (0, 200), [0, 50, 100, 150, 200]
    else:
        mevery = list(range(3, 36, 4))
        xlim, xticks = (5, 200), [50, 100, 150, 200]

    axes = [fig.add_axes([l / W, bottom, ax_w / W, ax_h / H]) for l in lefts]
    ax_loss, ax_acc, ax_step = axes

    draw_bands(ax_loss, row["loss_bands"])
    draw_lines(ax_loss, x, row["loss"], True, mevery)
    ax_loss.set_yscale("log")
    ax_loss.set_ylim(10 ** row["loss_lim"][0], 10 ** row["loss_lim"][1])
    ax_loss.set_yticks([1, 1e-1, 1e-2, 1e-3])
    ax_loss.set_ylabel("Train loss (log)")

    draw_lines(ax_acc, x, row["acc"], False, mevery)
    ax_acc.set_ylim(*row["acc_lim"])
    ax_acc.set_yticks(row["acc_ticks"])
    ax_acc.set_yticklabels([f"{t:.2f}" for t in row["acc_ticks"]])
    ax_acc.set_ylabel("Validation accuracy")

    draw_bands(ax_step, row["step_bands"])
    draw_lines(ax_step, x, row["step"], True, mevery)
    ax_step.set_yscale("log")
    ax_step.set_ylim(10 ** row["step_lim"][0], 10 ** row["step_lim"][1])
    ax_step.set_yticks([10.0 ** k for k in row["step_ticks"]])
    ax_step.yaxis.set_minor_locator(NullLocator())
    ax_step.set_ylabel("Step size (log)")

    for ax in axes:
        ax.set_xlim(*xlim)
        ax.set_xticks(xticks)
        ax.set_xlabel("Epoch", fontsize=9.5, labelpad=1)
        ax.yaxis.label.set_size(9.5)
        ax.set_title(row["title"], fontsize=10, pad=3)
        ax.grid(True, which="major", color="#b0b0b0", lw=0.8)
        ax.tick_params(axis="both", which="major", labelsize=9, length=3.5, width=0.8)
        ax.tick_params(axis="y", which="minor", length=2, width=0.6)
        for s in ax.spines.values():
            s.set_visible(True)

    handles = [Line2D([], [], color=colors[i], lw=1.3, marker=markers[i],
                      markersize=msizes[i], markeredgecolor=colors[i],
                      markeredgewidth=1.3 if markers[i] == "+" else 0.6)
               for i in range(len(methods))]
    leg_y = 1 - (301 + pitch * r) / H
    fig.legend(handles, methods, loc="center", bbox_to_anchor=(530 / W, leg_y), ncol=7,
               fontsize=9.5, frameon=True, edgecolor="#d0d0d0", fancybox=True,
               handlelength=2.0, columnspacing=1.6, handletextpad=0.8, borderpad=0.4)

    cap_y = 1 - (341 + pitch * r) / H
    fig.text(523 / W, cap_y, row["caption"], ha="center", va="center",
             fontsize=16.5, family=["Liberation Serif", "DejaVu Serif"])

fig.savefig("out.png", dpi=100)
